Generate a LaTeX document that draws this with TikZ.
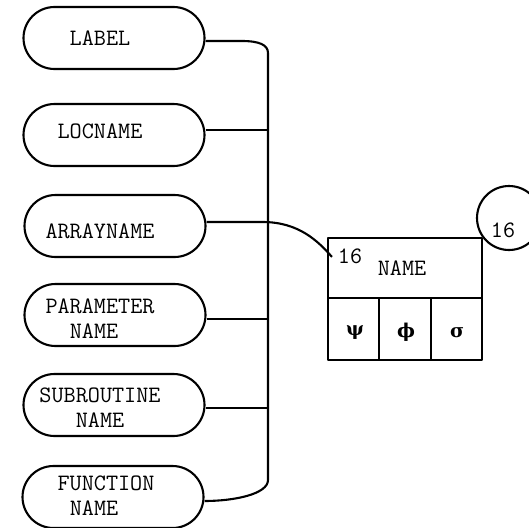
\documentclass[tikz,border=0pt]{standalone}
\usepackage{fontspec}
\newfontfamily\greekfont{DejaVu Serif}
\usetikzlibrary{shapes.misc}
\begin{document}
\begin{tikzpicture}[x=1pt,y=-1pt,line width=2.1pt,line join=round,
  term/.style={draw,rounded rectangle,minimum width=181pt,minimum height=62pt,inner sep=0pt},
  word/.style={font=\fontsize{23.5}{26}\selectfont\ttfamily,inner sep=0pt},
  greek/.style={font=\fontsize{19}{22}\selectfont\greekfont\bfseries,inner sep=0pt},
  field/.style={draw,inner sep=0pt,minimum height=62pt,minimum width=51.33pt}]
\useasboundingbox (0,0) rectangle (529,527);

% terminal symbols on the left
\node[term] (lbl) at (114,38)  {};
\node[term] (loc) at (114,135) {};
\node[term] (arr) at (115,226) {};
\node[term] (par) at (115,315) {};
\node[term] (sub) at (114,405) {};
\node[term] (fun) at (113,497) {};

\node[word] (tlbl) at (100,38)  {LABEL};
\node[word] (tloc) at (100,131) {LOCNAME};
\node[word] (tarr) at (100,231) {ARRAYNAME};
\node[word] (tpar1) at (100,306) {PARAMETER};
\node[word] (tpar2) at (94,331)  {NAME};
\node[word] (tsub1) at (100,395) {SUBROUTINE};
\node[word] (tsub2) at (100,420) {NAME};
\node[word] (tfun1) at (106,483) {FUNCTION};
\node[word] (tfun2) at (94,508)  {NAME};

% the NAME record with its three fields
\node[draw,inner sep=0pt,minimum width=154pt,minimum height=60pt] (namebox) at (405,268) {};
\node[field] (psi) at (353.67,329) {};
\node[field] (phi) at (405,329) {};
\node[field] (sig) at (456.33,329) {};
\node[word] (tnum) at (350,256) {16};
\node[word] (tname) at (402,268) {NAME};
\node[greek] (gpsi) at (355,333) {ψ};
\node[greek] (gphi) at (406,332) {ϕ};
\node[greek] (gsig) at (457,333) {σ};

% page reference circle
\node[draw,circle,minimum size=64pt,inner sep=0pt] (ref) at (509,218) {};
\node[word] (tref) at (503,230) {16};

% collecting bus
\coordinate (bustop) at (268,53);
\coordinate (busbot) at (268,480);

\draw ([yshift=-3pt]lbl.east) -- ++(36,0)
      .. controls +(18,0) and +(0,-8) .. (bustop)
      -- (busbot)
      .. controls +(0,14) and +(30,0) .. ([yshift=-4pt]fun.east);
\draw (loc.east |- 0,130) -- (bustop |- 0,130);
\draw (par.east |- 0,319) -- (bustop |- 0,319);
\draw (sub.east |- 0,408) -- (bustop |- 0,408);
\draw (arr.east |- 0,222) -- ++(56,0)
      .. controls +(36,0) and +(-14,-16) .. ([shift={(5,20)}]namebox.north west);
\end{tikzpicture}
\end{document}
